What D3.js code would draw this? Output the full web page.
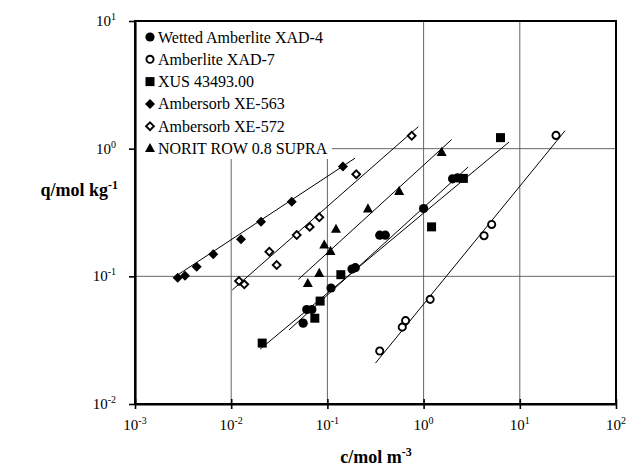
<!DOCTYPE html>
<html>
<head>
<meta charset="utf-8">
<script src="https://cdn.jsdelivr.net/npm/d3@7/dist/d3.min.js"></script>
<style>
  body { margin: 0; background: #fff; }
  svg { display: block; }
</style>
</head>
<body>
<svg id="chart" width="633" height="468"></svg>
<script>
// ---- data ----
const xTicks = [1e-3, 1e-2, 1e-1, 1e0, 1e1, 1e2];
const xTickExp = ["-3", "-2", "-1", "0", "1", "2"];
const yTicks = [1e-2, 1e-1, 1e0, 1e1];
const yTickExp = ["-2", "-1", "0", "1"];

const seriesNames = ["Wetted Amberlite XAD-4", "Amberlite XAD-7", "XUS 43493.00",
                     "Ambersorb XE-563", "Ambersorb XE-572", "NORIT ROW 0.8 SUPRA"];

const xad4C = [0.056, 0.061, 0.069, 0.109, 0.18, 0.195, 0.35, 0.40, 1.0, 2.0, 2.25];
const xad4Q = [0.043, 0.055, 0.055, 0.081, 0.114, 0.117, 0.21, 0.21, 0.34, 0.58, 0.59];
const xad7C = [0.35, 0.60, 0.65, 1.17, 4.25, 5.1, 23.8];
const xad7Q = [0.026, 0.040, 0.045, 0.066, 0.208, 0.255, 1.27];
const xusC = [0.021, 0.074, 0.084, 0.138, 1.21, 2.59, 6.3];
const xusQ = [0.030, 0.047, 0.064, 0.103, 0.244, 0.585, 1.22];
const xe563C = [0.00278, 0.00331, 0.00438, 0.00651, 0.01265, 0.0204, 0.0426, 0.145];
const xe563Q = [0.0975, 0.101, 0.119, 0.149, 0.195, 0.268, 0.384, 0.724];
const xe572C = [0.01205, 0.01368, 0.0249, 0.0297, 0.048, 0.0655, 0.0824, 0.1995, 0.752];
const xe572Q = [0.0918, 0.0865, 0.156, 0.1225, 0.2105, 0.244, 0.29, 0.63, 1.26];
const noritC = [0.0626, 0.0822, 0.0927, 0.1077, 0.1228, 0.264, 0.557, 1.54];
const noritQ = [0.088, 0.1055, 0.176, 0.157, 0.234, 0.338, 0.463, 0.936];

// fitted isotherm lines: [c start, q start, c end, q end]
const fitXad4 = [0.0399, 0.038, 2.9, 0.718];
const fitXad7 = [0.316, 0.0209, 29.5, 1.38];
const fitXus = [0.020, 0.0269, 7.73, 1.127];
const fitXe563 = [0.00248, 0.097, 0.194, 0.843];
const fitXe572 = [0.01026, 0.0782, 0.881, 1.486];
const fitNorit = [0.0499, 0.0946, 1.96, 1.18];

// ---- layout ----
const FONT = "'Liberation Serif', 'Times New Roman', Times, serif";
const svg = d3.select("#chart").attr("font-family", FONT);
const L = 135, R = 616, T = 21, B = 404;
const x = d3.scaleLog().domain([1e-3, 1e2]).range([L, R]);
const y = d3.scaleLog().domain([1e-2, 1e1]).range([B, T]);

// grid lines
const g = svg.append("g");
g.selectAll("line.vg").data([1e-2, 1e-1, 1e0, 1e1]).enter().append("line")
  .attr("x1", d => x(d)).attr("x2", d => x(d)).attr("y1", T).attr("y2", B)
  .attr("stroke", "#555").attr("stroke-width", 0.9);
g.selectAll("line.hg").data([1e-1, 1e0]).enter().append("line")
  .attr("x1", L).attr("x2", R).attr("y1", d => y(d)).attr("y2", d => y(d))
  .attr("stroke", "#555").attr("stroke-width", 0.9);

// legend background (covers grid)
svg.append("rect").attr("x", L + 1).attr("y", T + 1).attr("width", 196).attr("height", 137)
  .attr("fill", "#fff");

// fit lines
const fits = [fitXad4, fitXad7, fitXus, fitXe563, fitXe572, fitNorit];
svg.selectAll("line.fit").data(fits).enter().append("line")
  .attr("x1", d => x(d[0])).attr("y1", d => y(d[1]))
  .attr("x2", d => x(d[2])).attr("y2", d => y(d[3]))
  .attr("stroke", "#000").attr("stroke-width", 1);

// marker drawing
function marker(sel, type) {
  if (type === "fcircle") {
    sel.append("circle").attr("r", 4.6).attr("fill", "#000");
  } else if (type === "ocircle") {
    sel.append("circle").attr("r", 3.6).attr("fill", "#fff").attr("stroke", "#000").attr("stroke-width", 1.9);
  } else if (type === "square") {
    sel.append("rect").attr("x", -4.5).attr("y", -4.5).attr("width", 9).attr("height", 9).attr("fill", "#000");
  } else if (type === "fdiamond") {
    sel.append("path").attr("d", "M0,-5L5,0L0,5L-5,0Z").attr("fill", "#000");
  } else if (type === "odiamond") {
    sel.append("path").attr("d", "M0,-3.9L3.9,0L0,3.9L-3.9,0Z").attr("fill", "#fff")
      .attr("stroke", "#000").attr("stroke-width", 1.9);
  } else if (type === "triangle") {
    sel.append("path").attr("d", "M0,-5.5L5,3.6L-5,3.6Z").attr("fill", "#000");
  }
}

const series = [
  { c: xad4C, q: xad4Q, type: "fcircle" },
  { c: xad7C, q: xad7Q, type: "ocircle" },
  { c: xusC, q: xusQ, type: "square" },
  { c: xe563C, q: xe563Q, type: "fdiamond" },
  { c: xe572C, q: xe572Q, type: "odiamond" },
  { c: noritC, q: noritQ, type: "triangle" }
];

series.forEach(s => {
  const pts = s.c.map((c, i) => [c, s.q[i]]);
  svg.append("g").selectAll("g").data(pts).enter().append("g")
    .attr("transform", d => `translate(${x(d[0])},${y(d[1])})`)
    .each(function () { marker(d3.select(this), s.type); });
});

// frame
svg.append("rect").attr("x", L).attr("y", T).attr("width", R - L).attr("height", B - T)
  .attr("fill", "none").attr("stroke", "#000").attr("stroke-width", 2);

// axes ticks
svg.append("g").attr("transform", `translate(0,${B})`)
  .call(d3.axisBottom(x).tickValues(xTicks).tickFormat("").tickSizeInner(-5).tickSizeOuter(0))
  .call(a => a.select(".domain").attr("stroke-width", 2.2))
  .call(a => a.selectAll(".tick line").attr("stroke-width", 1.6).attr("y1", 5));
svg.append("g").attr("transform", `translate(${L},0)`)
  .call(d3.axisLeft(y).tickValues(yTicks).tickFormat("").tickSizeInner(6).tickSizeOuter(0))
  .call(a => a.select(".domain").attr("stroke-width", 2.2))
  .call(a => a.selectAll(".tick line").attr("stroke-width", 1.6));

// tick labels
const xl = svg.append("g").selectAll("text").data(xTicks).enter().append("text")
  .attr("x", d => x(d)).attr("y", 430).attr("text-anchor", "middle")
  .attr("font-family", FONT).attr("font-size", 15);
xl.append("tspan").text("10");
xl.append("tspan").attr("font-size", 10).attr("dy", -6).text((d, i) => xTickExp[i]);

const yl = svg.append("g").selectAll("text").data(yTicks).enter().append("text")
  .attr("x", 116).attr("y", d => y(d) + 5).attr("text-anchor", "end")
  .attr("font-family", FONT).attr("font-size", 15);
yl.append("tspan").text("10");
yl.append("tspan").attr("font-size", 10).attr("dy", -6).text((d, i) => yTickExp[i]);

// axis titles
const yt = svg.append("text").attr("x", 118).attr("y", 196).attr("text-anchor", "end")
  .attr("font-family", FONT).attr("font-size", 18).attr("font-weight", "bold");
yt.append("tspan").text("q/mol kg");
yt.append("tspan").attr("font-size", 12).attr("dy", -7).text("-1");

const xt = svg.append("text").attr("x", 376).attr("y", 463).attr("text-anchor", "middle")
  .attr("font-family", FONT).attr("font-size", 18).attr("font-weight", "bold");
xt.append("tspan").text("c/mol m");
xt.append("tspan").attr("font-size", 12).attr("dy", -7).text("-3");

// legend
const legTypes = ["fcircle", "ocircle", "square", "fdiamond", "odiamond", "triangle"];
const lg = svg.append("g").selectAll("g").data(seriesNames).enter().append("g")
  .attr("transform", (d, i) => `translate(150,${37 + i * 22.3})`);
lg.each(function (d, i) { marker(d3.select(this), legTypes[i]); });
lg.append("text").attr("x", 8).attr("y", 5.5)
  .attr("font-family", FONT).attr("font-size", 16).text(d => d);
</script>
</body>
</html>
